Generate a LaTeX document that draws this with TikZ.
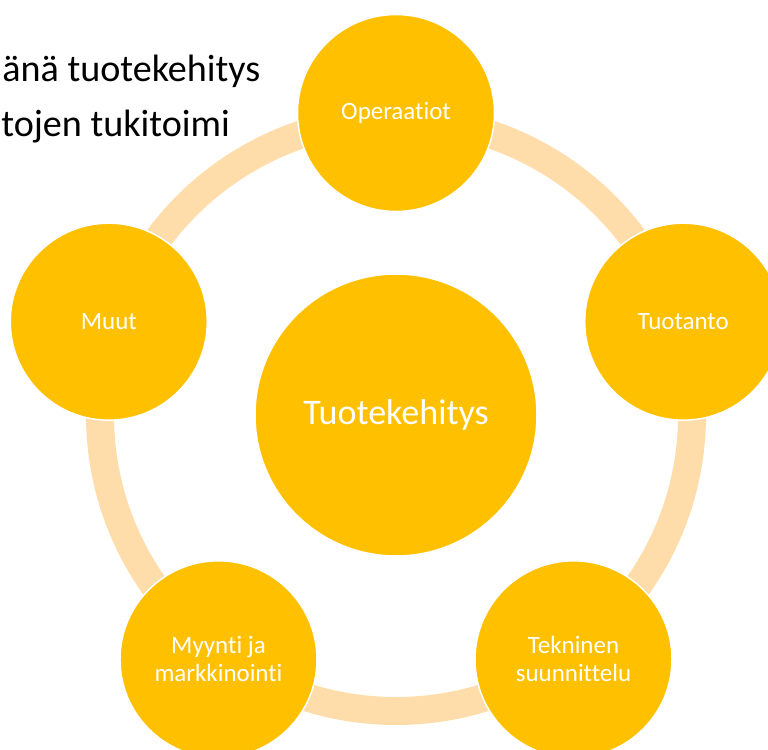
\documentclass[tikz,border=0pt]{standalone}
\usepackage{fontspec}
\setmainfont{Carlito}[Ligatures=NoCommon]
\definecolor{gold}{RGB}{255,192,0}
\definecolor{peach}{RGB}{255,221,170}

\begin{document}
\begin{tikzpicture}[
    every node/.style={
        text=white,
        align=center,
        font=\fontsize{14.2}{16}\selectfont
    },
    bubble/.style={
        circle,
        fill=gold,
        draw=white,
        line width=0.03cm,
        inner sep=0pt,
        minimum size=3.94cm
    },
    heading/.style={anchor=base west, inner sep=0pt, text=black, font=\fontsize{21.7}{25}\selectfont},
    ring/.style={draw=peach, line width=0.56cm}
]
\useasboundingbox (-7.92,-6.68) rectangle (7.44,8.30);
\clip (-7.92,-6.68) rectangle (7.44,8.30);

\node (line1) [heading] at (-7.88,6.66) {änä tuotekehitys};
\node (line2) [heading] at (-7.90,5.56) {tojen tukitoimi};

\coordinate (mid) at (0,0);
\draw[ring] (mid) circle[radius=5.92cm];

\node (hub) [bubble, minimum size=5.64cm, font=\fontsize{20.5}{24}\selectfont]
    at (mid) {Tuotekehitys};

\node (ops) [bubble] at (90:6.04cm) {Operaatiot};

\node (prod) [bubble] at (18:6.04cm) {Tuotanto};

\node (design) [bubble] at (-54:6.04cm)
    {Tekninen\\suunnittelu};

\node (sales) [bubble] at (-126:6.04cm)
    {Myynti ja\\markkinointi};

\node (other) [bubble] at (162:6.04cm) {Muut};

\end{tikzpicture}
\end{document}
